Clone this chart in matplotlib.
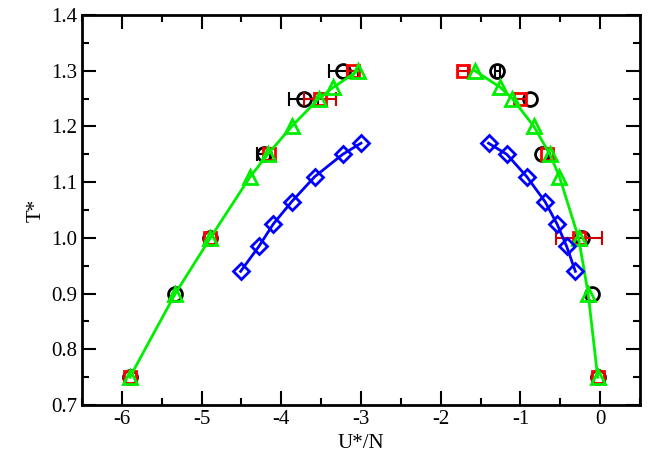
import matplotlib
matplotlib.use('Agg')
import matplotlib.pyplot as plt
from matplotlib.ticker import MultipleLocator, FormatStrFormatter

plt.rcParams['font.family'] = ['Liberation Serif', 'DejaVu Serif']
plt.rcParams['axes.unicode_minus'] = False

# black circles (no line)
circ_x = [-5.90, -5.33, -4.89, -4.22, -3.72, -3.22, -1.29, -0.88, -0.73, -0.23, -0.10, -0.03]
circ_y = [0.75, 0.90, 1.00, 1.15, 1.25, 1.30, 1.30, 1.25, 1.15, 1.00, 0.90, 0.75]
circ_err = [0.0, 0.0, 0.0, 0.08, 0.18, 0.18, 0.03, 0.0, 0.0, 0.0, 0.0, 0.0]

# red squares (no line)
sq_x = [-5.90, -4.89, -4.16, -3.51, -3.10, -1.72, -1.00, -0.67, -0.26, -0.03]
sq_y = [0.75, 1.00, 1.15, 1.25, 1.30, 1.30, 1.25, 1.15, 1.00, 0.75]
sq_err = [0.0, 0.0, 0.0, 0.20, 0.08, 0.06, 0.07, 0.0, 0.29, 0.0]

# green triangles, left and right branches
tri_xl = [-5.90, -5.33, -4.89, -4.39, -4.17, -3.87, -3.53, -3.35, -3.04]
tri_yl = [0.75, 0.90, 1.00, 1.11, 1.15, 1.20, 1.25, 1.27, 1.30]
tri_xr = [-1.57, -1.25, -1.10, -0.83, -0.63, -0.51, -0.27, -0.15, -0.03]
tri_yr = [1.30, 1.27, 1.25, 1.20, 1.15, 1.11, 1.00, 0.90, 0.75]

# blue diamonds, left and right branches
dia_y = [0.94, 0.985, 1.025, 1.065, 1.11, 1.15, 1.17]
dia_xl = [-4.51, -4.28, -4.10, -3.87, -3.58, -3.23, -3.00]
dia_xr = [-0.31, -0.42, -0.54, -0.69, -0.92, -1.17, -1.40]


def nonzero(xs, ys, es):
    pts = [(x, y, e) for x, y, e in zip(xs, ys, es) if e > 0]
    return [p[0] for p in pts], [p[1] for p in pts], [p[2] for p in pts]


fig = plt.figure(figsize=(6.51, 4.71), dpi=100)
ax = fig.add_axes([0.126, 0.140, 0.857, 0.828])

ex, ey, ee = nonzero(circ_x, circ_y, circ_err)
ax.errorbar(ex, ey, xerr=ee, fmt='none', ecolor='black', elinewidth=1.5,
            capsize=5, capthick=1.5, zorder=3)
ax.plot(circ_x, circ_y, 'o', mfc='none', mec='black', ms=10, mew=2, zorder=3)

ex, ey, ee = nonzero(sq_x, sq_y, sq_err)
ax.errorbar(ex, ey, xerr=ee, fmt='none', ecolor='#d00000', elinewidth=1.5,
            capsize=5, capthick=1.5, zorder=4)
ax.plot(sq_x, sq_y, 's', mfc='none', mec='red', ms=9, mew=2, zorder=4)

for xs, ys in [(tri_xl, tri_yl), (tri_xr, tri_yr)]:
    ax.plot(xs, ys, '-^', color='#00ee00', mfc='none', mec='#00ee00', ms=10, mew=2, lw=2, zorder=5)
for xs in [dia_xl, dia_xr]:
    ax.plot(xs, dia_y, '-D', color='blue', mfc='none', mec='blue', ms=8, mew=2, lw=2, zorder=5)

ax.set_xlim(-6.5, 0.5)
ax.set_ylim(0.7, 1.4)
ax.xaxis.set_major_locator(MultipleLocator(1))
ax.xaxis.set_minor_locator(MultipleLocator(0.5))
ax.yaxis.set_major_locator(MultipleLocator(0.1))
ax.yaxis.set_minor_locator(MultipleLocator(0.05))
ax.yaxis.set_major_formatter(FormatStrFormatter('%.1f'))
ax.tick_params(which='both', direction='in', top=True, right=True, width=1.5, labelsize=15)
ax.tick_params(which='major', length=10)
ax.tick_params(which='minor', length=5)
for s in ax.spines.values():
    s.set_linewidth(2)

ax.set_xlabel('U*/N', fontsize=15)
ax.set_ylabel('T*', fontsize=15)

fig.savefig('out.png', dpi=100)
